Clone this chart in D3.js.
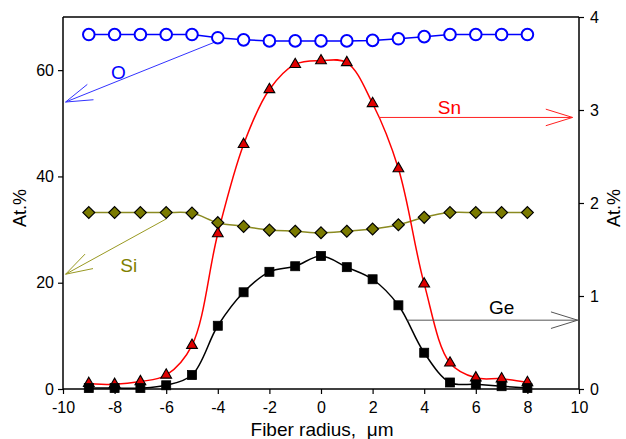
<!DOCTYPE html>
<html><head><meta charset="utf-8">
<script src="https://cdn.jsdelivr.net/npm/d3@7"></script>
<style>body{margin:0;background:#fff}svg{display:block;font-family:"Liberation Sans",Arial,sans-serif}</style>
</head><body>
<svg id="c" width="626" height="439"></svg>
<script>
const radius = [-9,-8,-7,-6,-5,-4,-3,-2,-1,0,1,2,3,4,5,6,7,8];
// left axis (At.%)
const oxygen = [66.7,66.7,66.7,66.7,66.7,66.1,65.7,65.5,65.5,65.5,65.5,65.6,65.9,66.3,66.7,66.7,66.7,66.7];
const silicon = [33.2,33.2,33.2,33.2,33.1,31.3,30.6,29.9,29.7,29.4,29.7,30.1,30.9,32.3,33.2,33.2,33.2,33.2];
// right axis (At.%)
const tin = [0.06,0.05,0.08,0.15,0.47,1.67,2.63,3.22,3.49,3.53,3.51,3.07,2.37,1.13,0.28,0.12,0.11,0.07];
const germanium = [0.01,0.01,0.01,0.04,0.15,0.68,1.04,1.26,1.32,1.43,1.31,1.18,0.90,0.39,0.07,0.05,0.03,0.01];
const xTicks = [-10,-8,-6,-4,-2,0,2,4,6,8,10];
const yLeftTicks = [0,20,40,60];
const yRightTicks = [0,1,2,3,4];
// annotations: label, axis, arrow start [x,y], arrow end [x,y], label pos [x,y]
const annLabels = ["O","Si","Sn","Ge"];
const annAxis = ["left","left","right","right"];
const annFrom = [[-4.0,65.5],[-6.0,32.0],[2.25,2.92],[3.35,0.74]];
const annTo = [[-9.9,54.0],[-9.9,21.6],[9.75,2.92],[9.95,0.74]];
const annText = [[-7.85,59.6],[-7.45,23.3],[4.98,3.03],[7.0,0.88]];
const annColor = ["#3333ff","#999922","#ff2020","#555555"];
const annTextColor = ["#0000ff","#808000","#ff0000","#000000"];

const svg = d3.select("#c");
const L = 63, R = 579, T = 17, B = 389;
const x = d3.scaleLinear().domain([-10,10]).range([L,R]);
const yL = d3.scaleLinear().domain([0,70]).range([B,T]);
const yR = d3.scaleLinear().domain([0,4]).range([B,T]);
const fmt = d => String(d);

// frame top
svg.append("line").attr("x1",L).attr("x2",R).attr("y1",T).attr("y2",T).attr("stroke","#000").attr("stroke-width",1.5);

const ax = svg.append("g").attr("transform",`translate(0,${B})`)
  .call(d3.axisBottom(x).tickValues(xTicks).tickSize(5).tickPadding(8).tickFormat(fmt));
const ayl = svg.append("g").attr("transform",`translate(${L},0)`)
  .call(d3.axisLeft(yL).tickValues(yLeftTicks).tickSize(5).tickPadding(4).tickFormat(fmt));
const ayr = svg.append("g").attr("transform",`translate(${R},0)`)
  .call(d3.axisRight(yR).tickValues(yRightTicks).tickSize(5).tickPadding(6).tickFormat(fmt));
[ax,ayl,ayr].forEach(g=>{
  g.selectAll(".domain").attr("stroke","#000").attr("stroke-width",1.5);
  g.selectAll(".tick line").attr("stroke","#000").attr("stroke-width",1.2);
  g.selectAll("text").attr("font-size",16).attr("fill","#000").attr("font-family","Liberation Sans, Arial, sans-serif");
});
ax.select(".domain").attr("d",`M${L},0H${R}`);
ayl.select(".domain").attr("d",`M0,${B}V${T}`);
ayr.select(".domain").attr("d",`M0,${B}V${T}`);

svg.append("text").attr("x",322).attr("y",436).attr("text-anchor","middle").attr("font-size",19).text("Fiber radius, \u00A0\u03BCm");
svg.append("text").attr("transform","translate(20,208) rotate(-90)").attr("text-anchor","middle").attr("dominant-baseline","central").attr("font-size",18).text("At.%");
svg.append("text").attr("transform","translate(614,208) rotate(-90)").attr("text-anchor","middle").attr("dominant-baseline","central").attr("font-size",18).text("At.%");

const defs = [
  {vals:oxygen, y:yL, curve:d3.curveLinear, line:"#0000ff"},
  {vals:silicon, y:yL, curve:d3.curveCatmullRom, line:"#8a8a20"},
  {vals:tin, y:yR, curve:d3.curveCatmullRom, line:"#ff0000"},
  {vals:germanium, y:yR, curve:d3.curveCatmullRom, line:"#000000"}
];
defs.forEach(s=>{
  const ln = d3.line().x((d,i)=>x(radius[i])).y(d=>s.y(d)).curve(s.curve);
  svg.append("path").attr("d",ln(s.vals)).attr("fill","none").attr("stroke",s.line).attr("stroke-width",1.5);
});

// annotations
annLabels.forEach((lab,i)=>{
  const yy = annAxis[i]==="left"?yL:yR;
  const x1=x(annFrom[i][0]), y1=yy(annFrom[i][1]), x2=x(annTo[i][0]), y2=yy(annTo[i][1]);
  const g = svg.append("g").attr("stroke",annColor[i]).attr("stroke-width",1).attr("fill","none");
  g.append("line").attr("x1",x1).attr("y1",y1).attr("x2",x2).attr("y2",y2);
  const ang = Math.atan2(y2-y1,x2-x1), len=28, spread=0.3;
  [ang+Math.PI-spread, ang+Math.PI+spread].forEach(a=>{
    g.append("line").attr("x1",x2).attr("y1",y2).attr("x2",x2+len*Math.cos(a)).attr("y2",y2+len*Math.sin(a));
  });
  svg.append("text").attr("x",x(annText[i][0])).attr("y",yy(annText[i][1])).attr("text-anchor","middle")
    .attr("dominant-baseline","central").attr("font-size",19).attr("fill",annTextColor[i]).text(lab);
});

// markers
svg.append("g").selectAll("circle").data(oxygen).join("circle")
  .attr("cx",(d,i)=>x(radius[i])).attr("cy",d=>yL(d)).attr("r",5.8)
  .attr("fill","#fff").attr("stroke","#0000ff").attr("stroke-width",2);
svg.append("g").selectAll("path").data(silicon).join("path")
  .attr("d",d3.symbol(d3.symbolDiamond2 || d3.symbolDiamond, 90)())
  .attr("transform",(d,i)=>`translate(${x(radius[i])},${yL(d)})`)
  .attr("fill","#7a7a00").attr("stroke","#000").attr("stroke-width",1.2);
svg.append("g").selectAll("path").data(tin).join("path")
  .attr("d",d3.symbol(d3.symbolTriangle,50)())
  .attr("transform",(d,i)=>`translate(${x(radius[i])},${yR(d)})`)
  .attr("fill","#e00000").attr("stroke","#000").attr("stroke-width",1.1);
svg.append("g").selectAll("rect").data(germanium).join("rect")
  .attr("x",(d,i)=>x(radius[i])-4.5).attr("y",d=>yR(d)-4.5).attr("width",9).attr("height",9)
  .attr("fill","#000").attr("stroke","#000").attr("stroke-width",0.8);
</script>
</body></html>
